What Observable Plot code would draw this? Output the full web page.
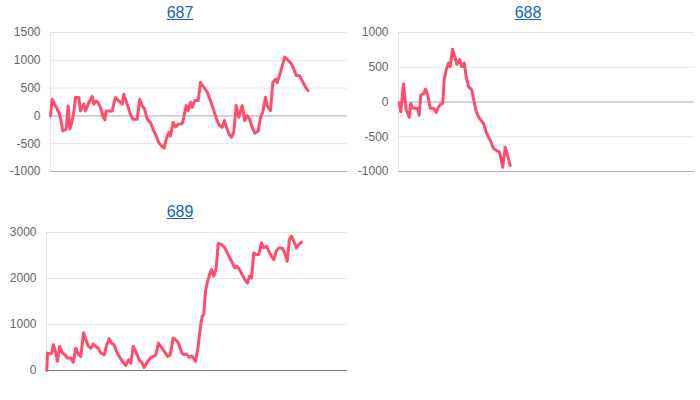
<!DOCTYPE html>
<html>
<head>
<meta charset="utf-8">
<script src="https://cdn.jsdelivr.net/npm/d3@7"></script>
<script src="https://cdn.jsdelivr.net/npm/@observablehq/plot@0.6"></script>
<style>
  html, body { margin: 0; padding: 0; background: #fff; }
  #wrap { position: relative; width: 700px; height: 400px; overflow: hidden; font-family: "Liberation Sans", Arial, Helvetica, sans-serif; }
  .title { position: absolute; width: 100px; text-align: center; font-size: 16px; line-height: 18px; }
  .title a { color: #1565c0; text-decoration: underline; }
  .panel { position: absolute; }
</style>
</head>
<body>
<div id="wrap"></div>
<script>
// ---- data ----
const titles = ["687", "688", "689"];

const t687 = [0,1.7,5,8.3,10,12.3,15.7,17.7,19.3,21.7,23.3,25,28.3,30,31.7,33.3,35,37.7,40,41.7,43.3,45.7,47.7,50,52.3,54.3,55.7,58.3,61.7,63.3,65,68.3,71.7,73.3,76.7,80,82.3,86.7,89.3,91.7,94.3,96.7,100,103.3,105.7,108.3,111,113.7,115.7,118.3,120,122.7,125,127.7,131.7,133.3,135.7,137.7,140,141.7,144.3,147.7,150,153.3,156.7,160,163.3,166.7,169,171.7,174,176.7,179,181,183.3,185.7,188.3,191.7,194.3,196.7,199,201.7,204.3,207.7,210,212.3,215,216.7,220,222.3,225,226.7,230,232.3,234.3,237.7,241,243.3,245.7,249,251.7,255,257.7];
const v687 = [0,300,180,60,-30,-270,-240,180,-235,-90,60,330,330,90,150,210,90,210,300,350,210,270,240,150,0,-70,90,90,90,210,330,270,210,390,210,30,-60,-60,300,180,120,-60,-120,-270,-360,-480,-540,-580,-420,-300,-360,-120,-200,-150,-140,-25,185,95,245,155,275,275,600,515,425,275,95,-85,-175,-205,-85,-235,-345,-385,-295,185,-25,185,-85,5,-55,-205,-310,-270,-25,65,335,185,95,600,660,600,785,935,1060,1000,935,845,725,725,635,515,455];

const t688 = [0.7,2.3,5,7.7,10.7,12.3,14.3,16.7,19,20.7,22.3,25,27,29.3,31.7,35,37.7,40,42.3,44.3,45.7,47.7,50,51.7,54,56.7,58.3,61,63.3,65.7,67.7,70,73.3,75,77.7,80,82.3,85,88.3,91.7,95,97.7,101,104.3,106.7,109,111.7];
const v688 = [-15,-140,260,-115,-220,-20,-90,-90,-90,-190,100,120,185,100,-90,-90,-150,-70,-30,-20,320,465,560,510,760,635,540,610,510,560,365,220,175,50,-140,-215,-260,-310,-455,-550,-670,-695,-720,-940,-650,-770,-915];

const t689 = [0.3,1,3.3,5.3,7,9.3,11,13.3,16,18.7,21,24.3,26.7,29.3,32,34.3,37,39.3,42,44.3,46.7,49.3,51.7,54.3,57.7,60.3,62.7,65,67.7,70,72.7,76,79.3,82,84.3,86.7,89.3,92.7,95.3,97.7,101,104.3,107,109.3,112,114.3,117.7,121,123.7,126.7,129.3,132,135.3,137.7,140,142.7,145.3,149,151.7,154,155.7,157.3,159,160.7,163,165,167.3,169.7,171.7,175,178.3,181.7,185,188.3,190.7,193,195.7,198.3,201,203,205,207.3,209.7,212.3,215,217.3,220,222.3,225,227.3,229.7,232.3,235.7,238.3,240.7,243,245,247.3,250,252.3,255];
const v689 = [0,380,360,380,560,380,200,520,380,340,270,270,180,485,355,305,820,670,525,485,575,525,485,380,340,560,690,595,560,415,305,195,110,235,160,520,415,235,175,65,195,285,305,340,595,525,415,305,340,705,670,595,380,340,360,285,320,195,525,960,1180,1215,1720,1900,2085,2195,2050,2230,2760,2740,2665,2520,2375,2230,2265,2195,2085,1975,1900,2050,2010,2555,2520,2520,2775,2665,2700,2595,2485,2410,2595,2665,2665,2555,2375,2850,2920,2810,2665,2740,2790];

const ticksA = [-1000, -500, 0, 500, 1000, 1500];
const ticksB = [-1000, -500, 0, 500, 1000];
const ticksC = [0, 1000, 2000, 3000];

const LINE = "#ff4d6d";

function panel(t, v, yDomain, yTicks, opts) {
  const data = t.map((d, i) => ({t: d, v: v[i]}));
  return Plot.plot({
    width: 350,
    height: opts.height,
    marginLeft: opts.ml,
    marginRight: opts.mr,
    marginTop: 6,
    marginBottom: 10,
    style: {fontFamily: "'Liberation Sans', Arial, Helvetica, sans-serif", fontSize: "12px", background: "transparent", overflow: "visible"},
    x: {domain: [0, opts.xMax], axis: null},
    y: {domain: yDomain, axis: null},
    marks: [
      Plot.gridY(yTicks, {stroke: "#000", strokeOpacity: 0.1}),
      Plot.ruleX([0], {stroke: "#000", strokeOpacity: 0.1}),
      Plot.ruleY([0], {stroke: "#000", strokeOpacity: 0.25}),
      Plot.ruleY([yDomain[0]], {stroke: "#000", strokeOpacity: 0.25}),
      Plot.axisY(yTicks, {tickSize: 0, tickPadding: 10, tickFormat: d => `${d}`, fill: "#666", fontSize: 12, label: null}),
      Plot.line(data, {x: "t", y: "v", stroke: LINE, strokeWidth: 3, strokeLinejoin: "round", strokeLinecap: "round"})
    ]
  });
}

const wrap = document.getElementById("wrap");
function addTitle(text, cx, top) {
  const d = document.createElement("div");
  d.className = "title";
  d.style.left = (cx - 50) + "px";
  d.style.top = top + "px";
  const a = document.createElement("a");
  a.href = "#";
  a.textContent = text;
  d.appendChild(a);
  wrap.appendChild(d);
}
function addPanel(node, left, top) {
  const d = document.createElement("div");
  d.className = "panel";
  d.style.left = left + "px";
  d.style.top = top + "px";
  d.appendChild(node);
  wrap.appendChild(d);
}

addTitle(titles[0], 180, 4);
addPanel(panel(t687, v687, [-1000, 1500], ticksA, {height: 155, ml: 50, mr: 3, xMax: 297}), 0, 26);

addTitle(titles[1], 528, 4);
addPanel(panel(t688, v688, [-1000, 1000], ticksB, {height: 155, ml: 48, mr: 6, xMax: 296}), 350, 26);

addTitle(titles[2], 180, 203);
addPanel(panel(t689, v689, [0, 3000], ticksC, {height: 154, ml: 46, mr: 3, xMax: 301}), 0, 226);
</script>
</body>
</html>
